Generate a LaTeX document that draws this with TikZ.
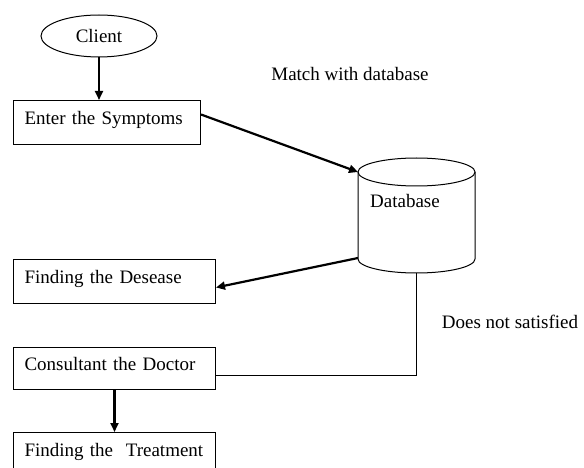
\documentclass[tikz,border=0pt]{standalone}
\usepackage{fontspec}
\setmainfont{Liberation Serif}
\usetikzlibrary{arrows.meta,shapes.geometric}
\begin{document}
\begin{tikzpicture}[x=1pt,y=-1pt,
  every node/.style={font=\fontsize{19}{22}\selectfont},
  box/.style={draw, line width=1pt, anchor=north west, inner xsep=11pt, inner ysep=0pt, align=left, text height=12pt, text depth=8pt},
  arr/.style={line width=2.2pt, -{Triangle[length=9pt,width=8pt]}},
  thinline/.style={line width=1pt}]
\useasboundingbox (0,0) rectangle (584,468);
% client ellipse
\node[draw, ellipse, line width=1pt, minimum width=116pt, minimum height=42pt, inner sep=0pt] (client) at (99,36) {Client};
% boxes
\node[box, text width=165pt, minimum height=44pt] (sym) at (13,100) {Enter the Symptoms};
\node[box, text width=180pt, minimum height=44pt] (des) at (13,259) {Finding the Desease};
\node[box, text width=180pt, minimum height=42pt] (con) at (13,347) {Consultant the Doctor};
\node[box, text width=180pt, minimum height=44pt] (trt) at (13,432) {Finding the\ \ Treatment};
% database cylinder
\coordinate (dbtl) at (358,172);
\coordinate (dbbl) at (358,258);
\coordinate (dbbot) at (416.5,273);
\draw[line width=1pt] (416.5,172) ellipse [x radius=58.5pt, y radius=14pt];
\draw[line width=1pt] (358,172) -- (358,259) arc[start angle=180, end angle=360, x radius=58.5pt, y radius=14pt] -- (475,172);
\node (dbl) at (405,201) {Database};
% free labels
\node (match) at (350,74) {Match with database};
\node (dns) at (510,322) {Does not satisfied};
% connectors
\draw[arr] (client.south) -- (client.south |- sym.north);
\draw[arr] ([yshift=8pt]sym.east) -- (dbtl);
\draw[arr] (dbbl) -- ([yshift=-6pt]des.east);
\draw[thinline] (dbbot) |- ([yshift=-7pt]con.east);
\draw[arr] (con.south) -- (trt.north);
\end{tikzpicture}
\end{document}
